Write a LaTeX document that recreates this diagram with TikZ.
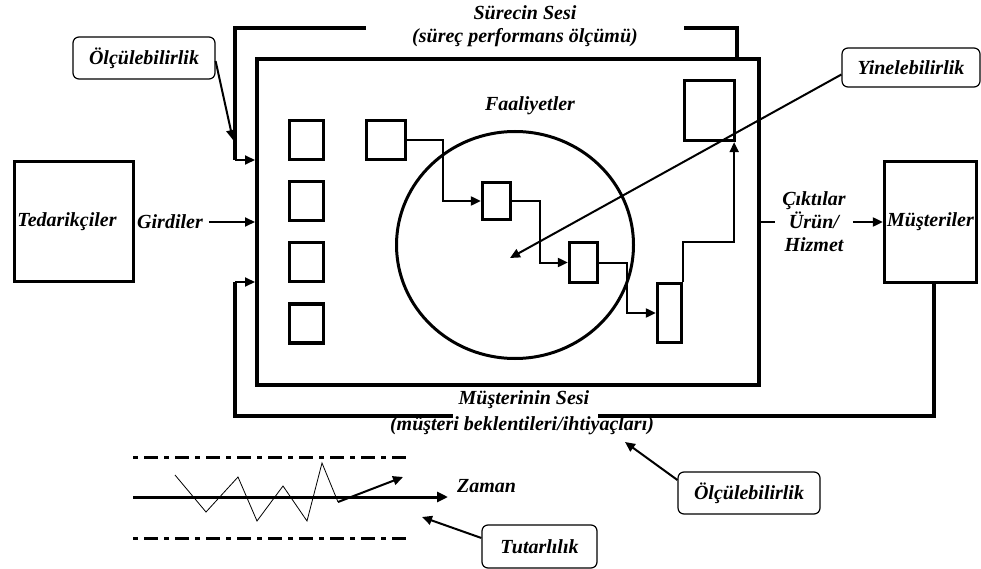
\documentclass[tikz,border=0pt]{standalone}
\usepackage{fontspec}
\setmainfont{Liberation Serif}
\usetikzlibrary{arrows.meta,shapes.geometric}
\begin{document}
\begin{tikzpicture}[x=1pt,y=-1pt,
  every node/.style={font=\fontsize{20}{23}\selectfont\bfseries\itshape},
  blk/.style={draw, line width=3.3pt, inner sep=0pt},
  frm/.style={line width=4pt},
  conn/.style={line width=2pt, -{Triangle[length=10pt,width=9pt]}},
  tag/.style={draw, rounded corners=6pt, line width=1.2pt, inner sep=0pt},
  txt/.style={inner sep=2pt, align=center},
  dashdot/.style={line width=3pt, dash pattern=on 5pt off 6pt on 14pt off 6pt}]

\useasboundingbox (0,0) rectangle (981,569);

% suppliers, process frame, customers
\node[blk, minimum width=119, minimum height=120] (supp) at (74,221.5) {};
\node[txt] (suppt) at (67,222) {Tedarikçiler};
\node[draw, line width=4pt, inner sep=0pt, minimum width=502, minimum height=326] (proc) at (508,222) {};
\node[blk, minimum width=92, minimum height=121] (cust) at (930.5,222) {Müşteriler};

% inputs and outputs
\node[txt] (girdi) at (170,222) {Girdiler};
\draw[conn] ([xshift=4pt]girdi.east) -- (proc.west |- girdi.east);
\node[txt, inner xsep=7pt, align=center] (out) at (814,222) {Çıktılar\\Ürün/\\Hizmet};
\draw[line width=2pt] (proc.east |- out.west) -- (out.west);
\draw[conn] (out.east) -- (cust.west |- out.east);

% column of resource squares
\node[blk, minimum width=34, minimum height=39] (r1) at (306.5,140) {};
\node[blk, minimum width=34, minimum height=39] (r2) at (306.5,201) {};
\node[blk, minimum width=34, minimum height=39] (r3) at (306.5,262) {};
\node[blk, minimum width=34, minimum height=39] (r4) at (306.5,323.5) {};

% activities
\node[draw, ellipse, line width=3pt, minimum width=237, minimum height=227, inner sep=0pt] (act) at (515,245) {};
\node[txt] (actt) at (530,106) {Faaliyetler};
\node[blk, minimum width=39, minimum height=39] (a1) at (386,140) {};
\node[blk, minimum width=28, minimum height=37] (a2) at (496.5,201) {};
\node[blk, minimum width=28, minimum height=40] (a3) at (583.5,262.5) {};
\node[blk, minimum width=24, minimum height=59] (a4) at (669.5,313) {};
\node[blk, minimum width=50, minimum height=60] (a5) at (709.5,110.5) {};
\draw[conn] (a1.east) -- ++(36,0) |- (a2.west);
\draw[conn] (a2.east) -- ++(28,0) |- (a3.west);
\draw[conn] (a3.east) -- ++(28,0) |- (a4.west);
\draw[conn] (a4.north east) -- ++(0,-40) -| ([xshift=-2pt]a5.south east);

% voice of the process (top feedback)
\node[txt] (vproc) at (525,26) {Sürecin Sesi\\(süreç performans ölçümü)};
\coordinate (tR) at (684,28);
\coordinate (tL) at (366,28);
\coordinate (fTL) at (235,160);
\draw[frm] ([xshift=-24pt]proc.north east) |- (tR);
\draw[frm] (tL) -| (fTL);
\draw[conn] (fTL) -- (proc.west |- fTL);

% voice of the customer (bottom feedback)
\node[txt] (vcust) at (524,400) {Müşterinin Sesi};
\node[txt] (vcust2) at (522,426) {(müşteri beklentileri/ihtiyaçları)};
\coordinate (bR) at (598,416);
\coordinate (bL) at (453,416);
\coordinate (fBL) at (235,282);
\draw[frm] ([xshift=3pt]cust.south) |- (bR);
\draw[frm] (bL) -| (fBL);
\draw[conn] (fBL) -- (proc.west |- fBL);

% callouts
\node[tag, minimum width=142, minimum height=42] (olc1) at (144,58) {Ölçülebilirlik};
\coordinate (m1) at (233,140);
\draw[conn] ([yshift=-3pt]olc1.east) -- (m1);

\node[tag, minimum width=138, minimum height=39] (yin) at (911,67.5) {Yinelebilirlik};
\coordinate (m2) at (510,258);
\draw[conn] ([yshift=-7pt]yin.west) -- (m2);

\node[tag, minimum width=142, minimum height=42] (olc2) at (749,493) {Ölçülebilirlik};
\coordinate (m3) at (625,442);
\draw[conn] ([yshift=13pt]olc2.west) -- (m3);

% consistency over time
\coordinate (z0) at (133,497);
\node[txt, anchor=west] (zaman) at (455,486) {Zaman};
\coordinate (z1) at (448,497);
\draw[line width=3pt, -{Triangle[length=11pt,width=10pt]}] (z0) -- (z1);
\coordinate (d1a) at (133,457); \coordinate (d1b) at (407,457);
\coordinate (d2a) at (133,538); \coordinate (d2b) at (407,538);
\draw[dashdot] (d1a) -- (d1b);
\draw[dashdot] (d2a) -- (d2b);
\draw[line width=0.8pt] (175,475) -- (206,512) -- (238,477) -- (257,521)
  -- (283,486) -- (307,521) -- (322,463) -- (338,502) coordinate (zz);
\coordinate (zt) at (403,477);
\draw[conn] (zz) -- (zt);

\node[tag, minimum width=115, minimum height=43] (tut) at (539.5,546.5) {Tutarlılık};
\coordinate (m4) at (422,517);
\draw[conn] ([yshift=8.5pt]tut.west) -- (m4);

\end{tikzpicture}
\end{document}
